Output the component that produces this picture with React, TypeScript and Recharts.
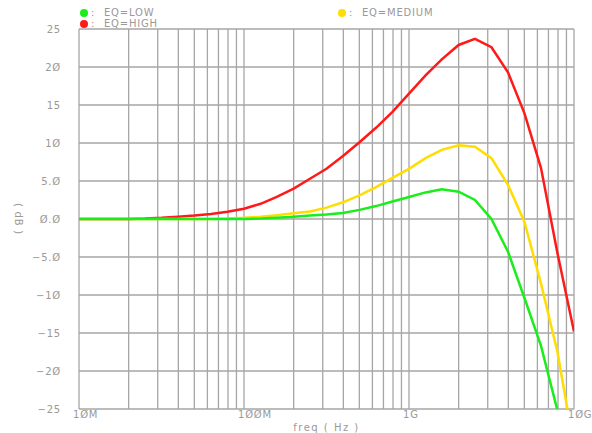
import { LineChart, Line, XAxis, YAxis, CartesianGrid, Legend } from "recharts";

// simulation sweep points (Hz)
const FREQ = [
    1e7, 1.26e7, 1.58e7, 2e7, 2.51e7, 3.16e7, 3.98e7, 5.01e7, 6.31e7, 7.94e7,
    1e8, 1.26e8, 1.58e8, 2e8, 2.51e8, 3.16e8, 3.98e8, 5.01e8, 6.31e8, 7.94e8,
    1e9, 1.26e9, 1.58e9, 2e9, 2.51e9, 3.16e9, 3.98e9, 5.01e9, 6.31e9, 7.94e9,
    1e10,
];

const EQ_LOW = [
    0, 0, 0, 0, 0, 0, 0, 0, 0, 0,
    0, 0.05, 0.15, 0.3, 0.45, 0.6, 0.8, 1.2, 1.7, 2.3,
    2.9, 3.5, 3.9, 3.6, 2.5, 0.0, -4.3, -10.4, -16.7, -25.2,
    -38,
];
const EQ_MEDIUM = [
    0, 0, 0, 0, 0, 0, 0, 0, 0, 0.05,
    0.15, 0.3, 0.5, 0.75, 1.0, 1.5, 2.2, 3.1, 4.2, 5.4,
    6.6, 8.0, 9.1, 9.7, 9.5, 8.0, 4.5, -0.4, -8.5, -17.5,
    -30,
];
const EQ_HIGH = [
    0, 0, 0, 0, 0.05, 0.15, 0.3, 0.45, 0.65, 0.95,
    1.35, 2.0, 2.9, 4.0, 5.3, 6.6, 8.3, 10.1, 12.0, 14.1,
    16.5, 18.9, 21.0, 22.9, 23.7, 22.6, 19.3, 13.9, 6.7, -4.5,
    -14.8,
];

// log grid lines (1..9 per decade)
const X_GRID = [
    1e7, 2e7, 3e7, 4e7, 5e7, 6e7, 7e7, 8e7, 9e7,
    1e8, 2e8, 3e8, 4e8, 5e8, 6e8, 7e8, 8e8, 9e8,
    1e9, 2e9, 3e9, 4e9, 5e9, 6e9, 7e9, 8e9, 9e9,
    1e10,
];
const X_LABEL_VALUES = [1e7, 1e8, 1e9, 1e10];
const X_LABELS = ["1ØM", "1ØØM", "1G", "1ØG"];

const Y_TICKS = [25, 20, 15, 10, 5, 0, -5, -10, -15, -20, -25];
const Y_LABELS = ["25", "2Ø", "15", "1Ø", "5.Ø", "Ø.Ø", "−5.Ø", "−1Ø", "−15", "−2Ø", "−25"];

const Y_MINOR: number[] = [];
for (let v = -25; v <= 25; v++) Y_MINOR.push(v);

// axis: both y axes share the same [-25, 25] domain
const SERIES = [
    { key: "high", name: "EQ=HIGH", color: "#ff1a1a", axis: "main" },
    { key: "medium", name: "EQ=MEDIUM", color: "#ffdd00", axis: "main" },
    { key: "low", name: "EQ=LOW", color: "#1aee1a", axis: "minor" },
];

const data = FREQ.map((f, i) => ({
    freq: f,
    low: EQ_LOW[i],
    medium: EQ_MEDIUM[i],
    high: EQ_HIGH[i],
}));

const FONT = "'DejaVu Sans', sans-serif";
const TEXT = "#999";
const GRID = "#a6a6a6";
const SPACING = 0.8;

const legendPos: Record<string, { left: number; top: number }> = {
    low: { left: 80, top: 8 },
    high: { left: 80, top: 19 },
    medium: { left: 338, top: 8 },
};

const LegendContent = () => (
    <div
        style={{
            position: "relative",
            width: 592,
            height: 30,
            fontFamily: FONT,
            fontSize: 10,
            color: TEXT,
            letterSpacing: SPACING,
        }}
    >
        {SERIES.map((s) => (
            <div
                key={s.key}
                style={{
                    position: "absolute",
                    left: legendPos[s.key].left,
                    top: legendPos[s.key].top,
                    display: "flex",
                    alignItems: "center",
                    lineHeight: "9px",
                    whiteSpace: "nowrap",
                }}
            >
                <span style={{ width: 8, height: 8, borderRadius: 4, background: s.color, display: "inline-block" }} />
                <span style={{ marginLeft: 3, width: 13 }}>:</span>
                <span>{s.name}</span>
            </div>
        ))}
    </div>
);

const XTick = ({ x, y, payload }: any) => {
    const idx = X_LABEL_VALUES.indexOf(payload.value);
    if (idx < 0) return null;
    return (
        <text
            x={x - 6}
            y={y + 9}
            textAnchor="start"
            fill={TEXT}
            fontSize={10}
            fontFamily={FONT}
            letterSpacing={SPACING}
        >
            {X_LABELS[idx]}
        </text>
    );
};

export default function App() {
    return (
        <div style={{ position: "absolute", left: 0, top: 0, width: 592, height: 433, background: "#fff" }}>
            <LineChart width={592} height={433} data={data} margin={{ top: 29, right: 18, left: 0, bottom: 0 }}>
                <CartesianGrid yAxisId="main" stroke={GRID} strokeWidth={1.3} />
                <YAxis
                    yAxisId="minor"
                    orientation="left"
                    mirror
                    width={0}
                    type="number"
                    domain={[-25, 25]}
                    ticks={Y_MINOR}
                    interval={0}
                    tickFormatter={() => ""}
                    tickSize={3}
                    tickLine={{ stroke: "#999", strokeWidth: 1 }}
                    axisLine={false}
                    allowDataOverflow
                />
                <YAxis
                    yAxisId="main"
                    type="number"
                    domain={[-25, 25]}
                    ticks={Y_TICKS}
                    width={79}
                    allowDataOverflow
                    axisLine={false}
                    tickLine={false}
                    tickSize={0}
                    tickMargin={18}
                    tick={{ fill: TEXT, fontSize: 10, fontFamily: FONT, letterSpacing: SPACING }}
                    tickFormatter={(v: number) => Y_LABELS[Y_TICKS.indexOf(v)] ?? ""}
                    label={{
                        content: () => (
                            <text
                                x={18}
                                y={219}
                                transform="rotate(90 18 219)"
                                textAnchor="middle"
                                dominantBaseline="central"
                                fill={TEXT}
                                fontSize={10}
                                fontFamily={FONT}
                                letterSpacing={SPACING}
                            >
                                ( dB )
                            </text>
                        ),
                    }}
                />
                <XAxis
                    dataKey="freq"
                    type="number"
                    scale="log"
                    domain={[1e7, 1e10]}
                    ticks={X_GRID}
                    allowDataOverflow
                    height={24}
                    axisLine={false}
                    tickLine={false}
                    tickSize={0}
                    tickMargin={0}
                    interval={0}
                    tick={<XTick />}
                    label={{
                        value: "freq ( Hz )",
                        position: "insideBottom",
                        offset: 2,
                        fill: TEXT,
                        fontSize: 10,
                        fontFamily: FONT,
                        letterSpacing: 1.5,
                    }}
                />
                <Legend
                    layout="horizontal"
                    verticalAlign="middle"
                    align="center"
                    wrapperStyle={{ top: 0, left: 0, width: 592, height: 30 }}
                    content={<LegendContent />}
                />
                {SERIES.map((s) => (
                    <Line
                        key={s.key}
                        yAxisId={s.axis}
                        type="linear"
                        dataKey={s.key}
                        name={s.name}
                        stroke={s.color}
                        strokeWidth={2.5}
                        dot={false}
                        isAnimationActive={false}
                    />
                ))}
            </LineChart>
        </div>
    );
}
